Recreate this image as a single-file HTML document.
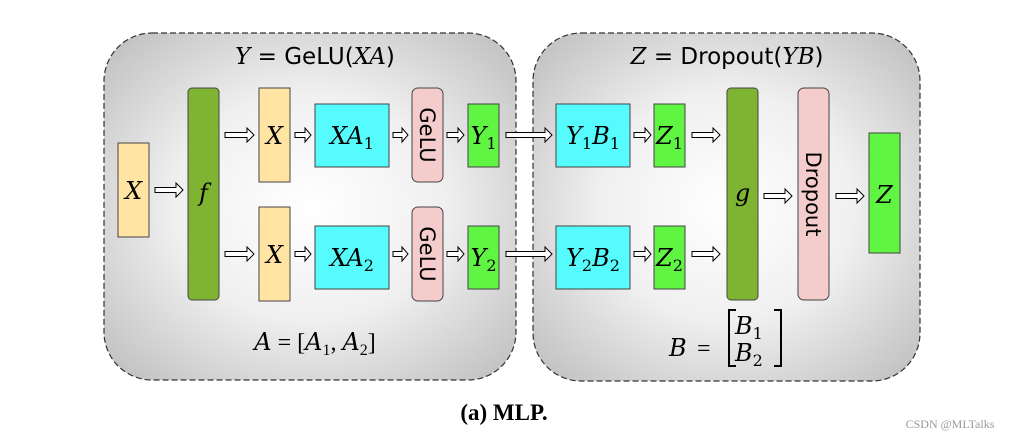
<!DOCTYPE html>
<html><head><meta charset="utf-8"><style>
body{margin:0;background:#fff;width:1014px;height:438px;overflow:hidden}
svg text{font-family:"Liberation Serif",serif}
.m{font-style:italic;font-family:"DejaVu Serif","Liberation Serif",serif}
.n{font-style:normal}
.s{font-family:"DejaVu Sans","Liberation Sans",sans-serif}
</style></head><body>
<svg width="1014" height="438" xmlns="http://www.w3.org/2000/svg">
<defs>
<radialGradient id="g" cx="50%" cy="50%" r="65%">
<stop offset="0" stop-color="#ffffff"/><stop offset="0.5" stop-color="#f0f0f0"/><stop offset="1" stop-color="#c4c4c4"/>
</radialGradient>
</defs>
<rect x="104" y="33" width="412" height="347" rx="48" fill="url(#g)" stroke="#333" stroke-dasharray="6,3" stroke-width="1.2"/>
<rect x="533" y="33" width="387" height="348" rx="48" fill="url(#g)" stroke="#333" stroke-dasharray="6,3" stroke-width="1.2"/>

<g font-size="23" text-anchor="middle">
<text x="315" y="64"><tspan class="m">Y</tspan><tspan class="s"> = GeLU(</tspan><tspan class="m">XA</tspan><tspan class="s">)</tspan></text>
<text x="727" y="64"><tspan class="m">Z</tspan><tspan class="s"> = Dropout(</tspan><tspan class="m">YB</tspan><tspan class="s">)</tspan></text>
</g>

<g stroke="#444" stroke-width="1">
<rect x="118" y="143" width="31" height="94" fill="#ffe4a3"/>
<rect x="188" y="88" width="31" height="212" rx="4" fill="#7fb332"/>
<rect x="259" y="88" width="31" height="94" fill="#ffe4a3"/>
<rect x="259" y="207" width="31" height="94" fill="#ffe4a3"/>
<rect x="315" y="104" width="74" height="63" fill="#55fbfd"/>
<rect x="315" y="226" width="74" height="63" fill="#55fbfd"/>
<rect x="412" y="88" width="31" height="94" rx="6" fill="#f3cccb"/>
<rect x="412" y="207" width="31" height="94" rx="6" fill="#f3cccb"/>
<rect x="468" y="104" width="31" height="63" fill="#5ff542"/>
<rect x="468" y="226" width="31" height="63" fill="#5ff542"/>
<rect x="556" y="104" width="74" height="63" fill="#55fbfd"/>
<rect x="556" y="226" width="74" height="63" fill="#55fbfd"/>
<rect x="654" y="104" width="31" height="63" fill="#5ff542"/>
<rect x="654" y="226" width="31" height="63" fill="#5ff542"/>
<rect x="727" y="88" width="31" height="212" rx="4" fill="#7fb332"/>
<rect x="798" y="88" width="31" height="212" rx="6" fill="#f3cccb"/>
<rect x="869" y="133" width="31" height="120" fill="#5ff542"/>
</g>

<g fill="#fff" stroke="#000" stroke-width="1">
<polygon points="155,187.5 176,187.5 176,183 183,190 176,197 176,192.5 155,192.5"/>
<polygon points="225,132.5 247,132.5 247,128 254,135 247,142 247,137.5 225,137.5"/>
<polygon points="225,251.5 247,251.5 247,247 254,254 247,261 247,256.5 225,256.5"/>
<polygon points="295,132.5 305,132.5 305,128 311,135 305,142 305,137.5 295,137.5"/>
<polygon points="295,251.5 305,251.5 305,247 311,254 305,261 305,256.5 295,256.5"/>
<polygon points="393,132.5 402,132.5 402,128 408,135 402,142 402,137.5 393,137.5"/>
<polygon points="393,251.5 402,251.5 402,247 408,254 402,261 402,256.5 393,256.5"/>
<polygon points="447,132.5 458,132.5 458,128 464,135 458,142 458,137.5 447,137.5"/>
<polygon points="447,251.5 458,251.5 458,247 464,254 458,261 458,256.5 447,256.5"/>
<polygon points="506,132.5 545,132.5 545,128 552,135 545,142 545,137.5 506,137.5"/>
<polygon points="506,251.5 545,251.5 545,247 552,254 545,261 545,256.5 506,256.5"/>
<polygon points="634,132.5 645,132.5 645,128 651,135 645,142 645,137.5 634,137.5"/>
<polygon points="634,251.5 645,251.5 645,247 651,254 645,261 645,256.5 634,256.5"/>
<polygon points="692,132.5 713,132.5 713,128 720,135 713,142 713,137.5 692,137.5"/>
<polygon points="692,251.5 713,251.5 713,247 720,254 713,261 713,256.5 692,256.5"/>
<polygon points="764,193.5 785,193.5 785,189 792,196 785,203 785,198.5 764,198.5"/>
<polygon points="836,193.5 857,193.5 857,189 864,196 857,203 857,198.5 836,198.5"/>
</g>

<g font-size="24" text-anchor="middle">
<text x="133.5" y="199" class="m">X</text>
<text x="203.5" y="201" class="m">f</text>
<text x="274.5" y="144" class="m">X</text>
<text x="274.5" y="263" class="m">X</text>
<text x="352" y="144" class="m">XA<tspan class="n" font-size="16" dy="5">1</tspan></text>
<text x="352" y="266" class="m">XA<tspan class="n" font-size="16" dy="5">2</tspan></text>
<text x="483.5" y="144" class="m">Y<tspan class="n" font-size="16" dy="5">1</tspan></text>
<text x="483.5" y="266" class="m">Y<tspan class="n" font-size="16" dy="5">2</tspan></text>
<text x="593" y="144" class="m">Y<tspan class="n" font-size="16" dy="5">1</tspan><tspan dy="-5">B</tspan><tspan class="n" font-size="16" dy="5">1</tspan></text>
<text x="593" y="266" class="m">Y<tspan class="n" font-size="16" dy="5">2</tspan><tspan dy="-5">B</tspan><tspan class="n" font-size="16" dy="5">2</tspan></text>
<text x="669.5" y="144" class="m">Z<tspan class="n" font-size="16" dy="5">1</tspan></text>
<text x="669.5" y="266" class="m">Z<tspan class="n" font-size="16" dy="5">2</tspan></text>
<text x="742.5" y="201" class="m">g</text>
<text x="884.5" y="203" class="m">Z</text>
</g>
<g font-size="21" text-anchor="middle">
<text transform="translate(420,135) rotate(90)" class="s">GeLU</text>
<text transform="translate(420,254) rotate(90)" class="s">GeLU</text>
<text transform="translate(806,194) rotate(90)" class="s">Dropout</text>
</g>
<text x="315" y="350" font-size="24" text-anchor="middle"><tspan class="m">A</tspan> = [<tspan class="m">A</tspan><tspan font-size="16" dy="5">1</tspan><tspan dy="-5">, </tspan><tspan class="m">A</tspan><tspan font-size="16" dy="5">2</tspan><tspan dy="-5">]</tspan></text>
<text x="669" y="356" font-size="24" class="m">B</text>
<text x="697" y="356" font-size="24">=</text>
<path d="M736,310 H729 V366 H736 M774,310 H781 V366 H774" fill="none" stroke="#000" stroke-width="2"/>
<text x="735" y="334" font-size="24" class="m">B<tspan class="n" font-size="16" dy="5">1</tspan></text>
<text x="735" y="361" font-size="24" class="m">B<tspan class="n" font-size="16" dy="5">2</tspan></text>
<text x="504" y="420" font-size="23" font-weight="bold" text-anchor="middle">(a) MLP.</text>
<text x="950" y="428" font-size="12" fill="#999" text-anchor="middle" font-family="Liberation Sans">CSDN @MLTalks</text>
</svg>
</body></html>
